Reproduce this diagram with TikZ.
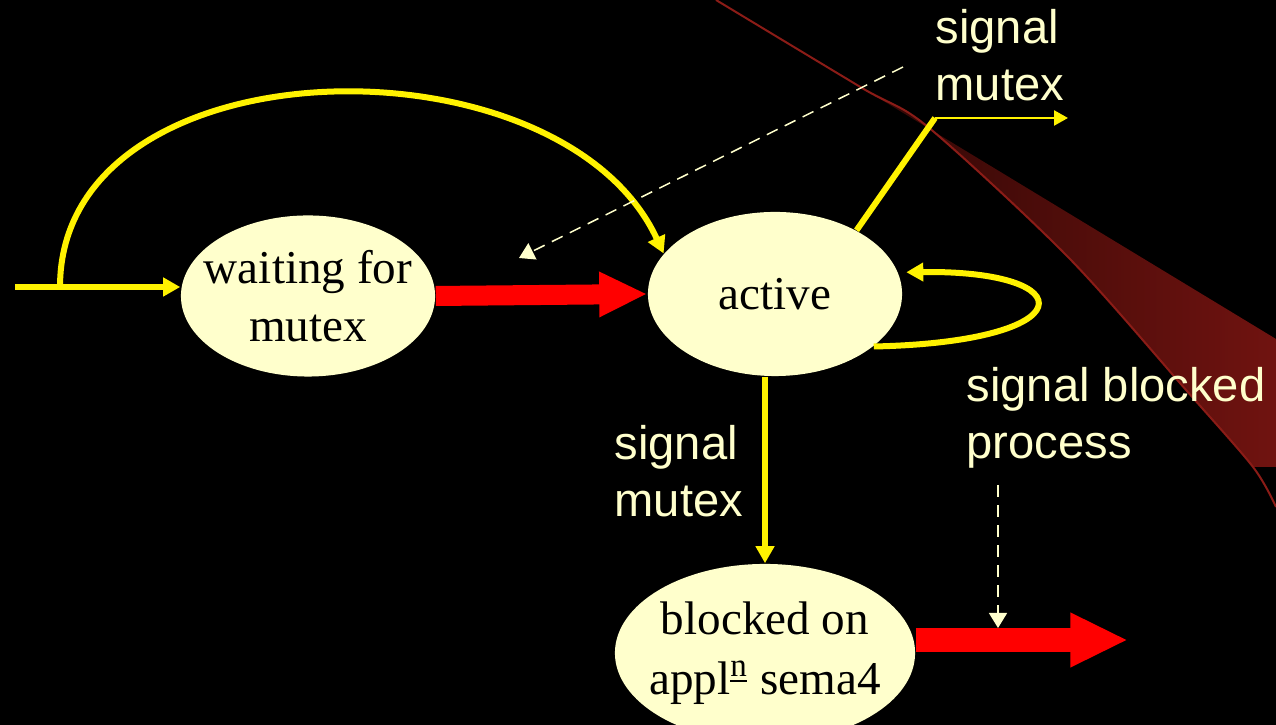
\documentclass[tikz,border=0pt]{standalone}
\usepackage{fontspec}
\setmainfont{Liberation Serif}
\setsansfont{Liberation Sans}
\usetikzlibrary{arrows.meta,shapes.geometric}

\definecolor{cream}{HTML}{FFFFCC}
\definecolor{swoosh}{HTML}{8B1C17}
\definecolor{swooshdark}{HTML}{300705}
\definecolor{swooshlight}{HTML}{701310}

\begin{document}
\begin{tikzpicture}[x=0.01cm, y=0.01cm,
  state/.style={ellipse, fill=cream, inner sep=-0.2cm, align=center, text=black,
    font=\fontsize{13.4}{16.4}\selectfont},
  lbl/.style={align=left, text=cream, inner sep=0pt, anchor=west,
    font=\sffamily\fontsize{13.4}{16.2}\selectfont},
  yarrow/.style={draw=yellow, line width=0.06cm, -{Triangle[length=0.17cm, width=0.18cm]}},
  ythin/.style={draw=yellow, line width=0.025cm, -{Triangle[length=0.14cm, width=0.15cm]}},
  redarrow/.style={draw=red, line width=#1, -{Triangle[length=0pt 2.4, width=0pt 2.1]}},
  dasharrow/.style={draw=cream, line width=0.015cm, dash pattern=on 0.12cm off 0.08cm,
    -{Triangle[length=0.15cm, width=0.18cm]}}]

  \useasboundingbox (0,0) rectangle (1276,725);
  \fill[black] (0,0) rectangle (1276,725);

  % red swoosh in the back
  \fill[left color=swooshdark, right color=swooshlight] (862,637) -- (1276,386) -- (1276,258)
    -- plot[smooth] coordinates {(1253,258) (1186,335) (1068,468) (928,598) (862,637)};
  \draw[swoosh, line width=0.02cm] plot[smooth] coordinates
    {(716,725) (862,637) (928,598) (1068,468) (1186,335) (1253,258) (1276,218)};

  \node[state, minimum width=2.54cm, minimum height=1.61cm] (waiting) at (308,429) {waiting for\\mutex};
  \node[state, minimum width=2.54cm, minimum height=1.64cm] (active) at (775,431) {active};
  \node[state, minimum width=3.0cm, minimum height=1.78cm,
    font=\fontsize{13.4}{17.2}\selectfont] (blocked) at (765,72)
    {blocked on\\appl\textsuperscript{\underline{n}} sema4};

  \node[lbl] (sigtop) at (935,670) {signal\\mutex};
  \node[lbl] (sigleft) at (614,254) {signal\\mutex};
  \node[lbl] (sigblocked) at (966,307) {signal blocked\\process};

  \coordinate (entry) at (15,438);
  \coordinate (fork) at (60,438);
  \coordinate (bend) at (935,607);
  \coordinate (exit) at (1068,607);
  \coordinate (redend) at (1128,85);
  \coordinate (dashA) at (903,658);
  \coordinate (dashB) at (519,467);
  \coordinate (dashC) at (998,240);
  \coordinate (dashD) at (998,97);

  \draw[redarrow=0.2cm] (waiting.east) -- (active.west);
  \draw[redarrow=0.24cm] (redend -| blocked.east) -- (redend);

  \draw[yarrow] (entry) -- (entry -| waiting.west);
  \draw[yarrow] (fork) .. controls (60,685) and (560,695) .. (active.160);
  \draw[yarrow] (active.332) .. controls (1085,383) and (1085,455) .. ([xshift=0.08cm]active.10);
  \draw[yarrow] (blocked.north |- active.south) -- (blocked.north);
  \draw[yellow, line width=0.06cm] (active.38) -- (bend);
  \draw[ythin] (bend) -- (exit);

  \draw[dasharrow] (dashA) -- (dashB);
  \draw[dasharrow] (dashC) -- (dashD);

\end{tikzpicture}
\end{document}
